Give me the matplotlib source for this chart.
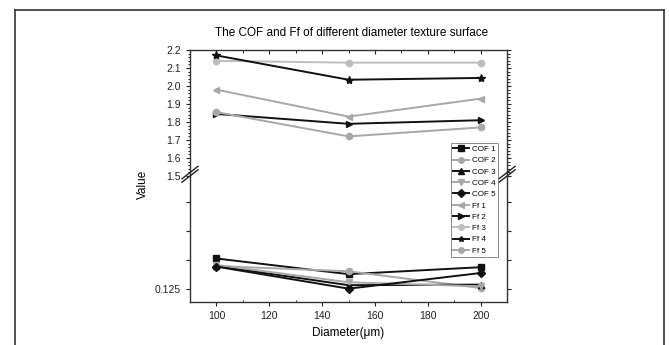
import matplotlib.pyplot as plt
from matplotlib.ticker import MultipleLocator
from matplotlib.lines import Line2D

plt.rcParams['font.family'] = ['Liberation Sans', 'DejaVu Sans']

diameter = [100, 150, 200]

# friction coefficient (lower segment of the broken axis)
cof1 = [0.1303, 0.1276, 0.1288]
cof2 = [0.1290, 0.1281, 0.1252]
cof3 = [0.1290, 0.1257, 0.1258]
cof4 = [0.1292, 0.1262, 0.1255]
cof5 = [0.1289, 0.1251, 0.1278]

# friction force (upper segment)
ff1 = [1.98, 1.83, 1.93]
ff2 = [1.845, 1.79, 1.81]
ff3 = [2.14, 2.13, 2.13]
ff4 = [2.17, 2.035, 2.045]
ff5 = [1.855, 1.72, 1.77]

labels = ['COF 1', 'COF 2', 'COF 3', 'COF 4', 'COF 5',
          'Ff 1', 'Ff 2', 'Ff 3', 'Ff 4', 'Ff 5']

black = '#111111'
gray = '#a8a8a8'
lgray = '#bdbdbd'

cof_series = [(cof1, black, 's'), (cof2, gray, 'o'), (cof3, black, '^'),
              (cof4, gray, 'v'), (cof5, black, 'D')]
ff_series = [(ff1, gray, '<'), (ff2, black, '>'), (ff3, lgray, 'o'),
             (ff4, black, '*'), (ff5, gray, 'o')]

fig = plt.figure(figsize=(6.69, 3.45), dpi=100)
left, width = 0.284, 0.474
ax_top = fig.add_axes([left, 0.4899, width, 0.365])
ax_bot = fig.add_axes([left, 0.1246, width, 0.365])

handles = []
for vals, c, m in cof_series:
    ms = 4.5 if m != 'D' else 4
    h, = ax_bot.plot(diameter, vals, color=c, marker=m, ms=ms, lw=1.4)
    handles.append(h)
for vals, c, m in ff_series:
    ms = 4.5 if m != '*' else 6
    h, = ax_top.plot(diameter, vals, color=c, marker=m, ms=ms, lw=1.4)
    handles.append(h)

for ax in (ax_top, ax_bot):
    ax.set_xlim(90, 210)
    ax.xaxis.set_major_locator(MultipleLocator(20))
    ax.xaxis.set_minor_locator(MultipleLocator(10))
    for s in ax.spines.values():
        s.set_linewidth(1.0)
        s.set_color('#333333')
    ax.tick_params(labelsize=7.5, length=3, width=0.8, colors='#222222')
    ax.tick_params(which='minor', length=1.8, width=0.6)

ax_top.set_ylim(1.5, 2.2)
ax_top.yaxis.set_major_locator(MultipleLocator(0.1))
ax_top.yaxis.set_minor_locator(MultipleLocator(0.02))
ax_top.yaxis.set_major_formatter(plt.FormatStrFormatter('%.1f'))
ax_top.spines['bottom'].set_visible(False)
ax_top.tick_params(axis='x', which='both', bottom=False, labelbottom=False,
                   top=True, direction='in')
ax_top.tick_params(axis='y', which='both', right=True)

ax_bot.set_ylim(0.1228, 0.1445)
ax_bot.set_yticks([0.125, 0.130, 0.135, 0.140])
ax_bot.set_yticklabels(['0.125', '', '', ''])
ax_bot.spines['top'].set_visible(False)
ax_bot.tick_params(axis='y', which='both', right=True)
ax_bot.tick_params(axis='x', which='minor', direction='in')

# break marks on both spines
d = 0.012
for xp in (0.0, 1.0):
    fig.add_artist(Line2D([left + xp * width - d, left + xp * width + d],
                          [0.4899 - 0.018, 0.4899 + 0.018],
                          color='#222222', lw=1.0))
    fig.add_artist(Line2D([left + xp * width - d, left + xp * width + d],
                          [0.4899 - 0.008, 0.4899 + 0.028],
                          color='#222222', lw=1.0))

ax_bot.set_xlabel('Diameter(\u03bcm)', fontsize=8.5, labelpad=4)
fig.text(0.213, 0.465, 'Value', rotation=90, fontsize=8.5,
         ha='center', va='center')
fig.text(0.525, 0.905, 'The COF and Ff of different diameter texture surface',
         fontsize=8.5, ha='center', va='center')

leg = fig.legend(handles, labels, loc='upper left',
                 bbox_to_anchor=(0.674, 0.585), fontsize=5.8,
                 frameon=True, fancybox=False, handlelength=2.0,
                 handletextpad=0.3, labelspacing=0.45, borderpad=0.3,
                 borderaxespad=0)
leg.get_frame().set_edgecolor('#555555')
leg.get_frame().set_linewidth(0.6)
for h in leg.legend_handles:
    h.set_markersize(4)

# outer frame
fc = '#333333'
fig.add_artist(Line2D([0.0224, 0.0224], [0.0, 0.971], color=fc, lw=1.2))
fig.add_artist(Line2D([0.0224, 0.9925], [0.971, 0.971], color=fc, lw=1.2))
fig.add_artist(Line2D([0.9925, 0.9925], [0.0, 0.971], color=fc, lw=1.2))

fig.savefig('out.png', dpi=100)
